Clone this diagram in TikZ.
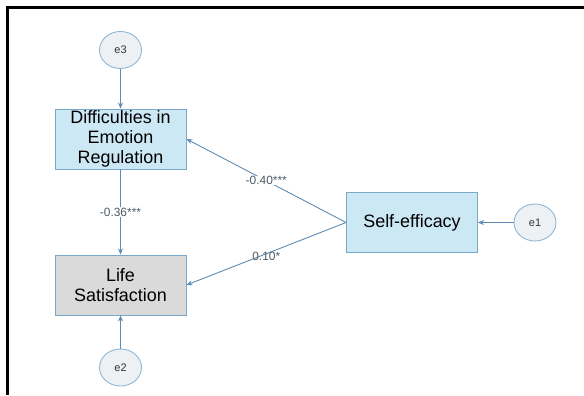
\documentclass[tikz,border=0pt]{standalone}
\usepackage{fontspec}
\setmainfont{Liberation Sans}
\usetikzlibrary{arrows.meta,shapes.geometric}
\definecolor{boxfill}{HTML}{CDE8F5}
\definecolor{grayfill}{HTML}{DADADA}
\definecolor{boxline}{HTML}{7AA8CA}
\definecolor{ellfill}{HTML}{EEF1F4}
\definecolor{ellline}{HTML}{8FB6D3}
\definecolor{arrcol}{HTML}{5E8CB2}
\definecolor{labcol}{HTML}{4F5B66}
\tikzset{
  varbox/.style={draw=boxline, line width=0.9bp, fill=boxfill, minimum width=131bp, minimum height=60bp,
    inner sep=0pt, align=center, font=\fontsize{18}{20}\selectfont, text=black},
  errell/.style={ellipse, draw=ellline, line width=0.9bp, fill=ellfill, minimum width=42bp, minimum height=37bp,
    inner sep=0pt, font=\fontsize{11}{12}\selectfont, text=black!80},
  conn/.style={draw=arrcol, line width=0.9bp, -{Stealth[length=6bp,width=5bp]}},
  coef/.style={font=\fontsize{12}{13}\selectfont, text=labcol, inner sep=0.5bp}
}
\begin{document}
\begin{tikzpicture}[x=1bp,y=-1bp]
\useasboundingbox (0,0) rectangle (584,395);
\draw[line width=2.5bp] (7.5,395) -- (7.5,7.5) -- (584,7.5);
\node[varbox] (der) at (120.5,139) {Difficulties in\\Emotion\\Regulation};
\node[varbox, fill=grayfill] (ls) at (120.5,285) {Life\\Satisfaction};
\node[varbox] (se) at (412,222.5) {Self-efficacy};
\node[errell] (e3) at (120.5,50) {e3};
\node[errell] (e2) at (120.5,367.5) {e2};
\node[errell] (e1) at (535,222.5) {e1};
\draw[conn] (e3) -- (der);
\draw[conn] (e2) -- (ls);
\draw[conn] (e1) -- (se);
\draw[conn] (der) -- node[coef, fill=white] {-0.36***} (ls);
\draw[conn] (se.west) -- node[coef, fill=white, pos=0.5] {-0.40***} (der.east);
\draw[conn] (se.west) -- node[coef, pos=0.5, yshift=-3bp] {0.10*} (ls.east);
\end{tikzpicture}
\end{document}
